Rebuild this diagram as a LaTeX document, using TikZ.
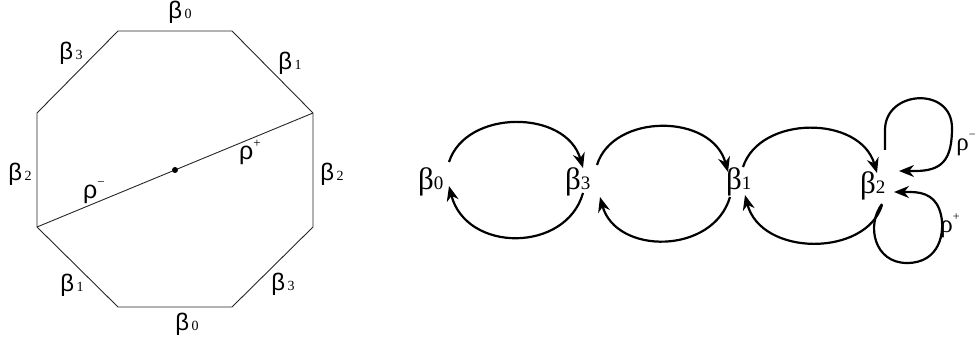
\documentclass[tikz,border=0pt]{standalone}
\usepackage{fontspec}
\setmainfont{Liberation Serif}
\newfontfamily\sansf{Liberation Sans}
\usetikzlibrary{arrows.meta}
\newcommand{\Lb}[1]{{\sansf\fontsize{24}{24}\selectfont β}\hspace{2.5pt}{\fontsize{14}{14}\selectfont #1}}
\newcommand{\Lr}[1]{{\sansf\fontsize{25}{25}\selectfont ρ}\raisebox{12pt}{\fontsize{13}{13}\selectfont #1}}
\newcommand{\Rb}[1]{{\fontsize{31}{31}\selectfont β}{\fontsize{19}{19}\selectfont #1}}
\newcommand{\Rr}[1]{{\fontsize{25}{25}\selectfont ρ}\raisebox{12pt}{\fontsize{12}{12}\selectfont #1}}
\tikzset{
  oct/.style={line width=0.9pt, draw=black!85, line join=miter},
  lbl/.style={inner sep=0pt, outer sep=0pt},
  arc/.style={line width=2.2pt, -{Stealth[length=15pt,width=12pt]}},
}
\begin{document}
\begin{tikzpicture}[x=1pt,y=-1pt]
\useasboundingbox (0,0) rectangle (980,347);
% octagon
\coordinate (A) at (118,31);
\coordinate (B) at (232,31);
\coordinate (C) at (313,113);
\coordinate (D) at (313,227);
\coordinate (E) at (232,307);
\coordinate (F) at (118,307);
\coordinate (G) at (37,227);
\coordinate (H) at (37,113);
\draw[oct] (A) -- (B) -- (C) -- (D) -- (E) -- (F) -- (G) -- (H) -- cycle;
\draw[oct] (G) -- (C);
\fill (175,170) circle (3pt);
\node[lbl] (t0) at (180,12) {\Lb{0}};
\node[lbl] (b0l) at (187,324) {\Lb{0}};
\node[lbl] (t3) at (71,53) {\Lb{3}};
\node[lbl] (t1) at (290,63) {\Lb{1}};
\node[lbl] (l2) at (20,174) {\Lb{2}};
\node[lbl] (r2) at (332,174) {\Lb{2}};
\node[lbl] (l1) at (72,285) {\Lb{1}};
\node[lbl] (r3) at (283,284) {\Lb{3}};
\node[lbl] (rm) at (94,193) {\Lr{−}};
\node[lbl] (rp) at (250,152) {\Lr{+}};
% right graph
\node[lbl, anchor=base west] (n0) at (418,190) {\Rb{0}};
\node[lbl, anchor=base west] (n3) at (565,190) {\Rb{3}};
\node[lbl, anchor=base west] (n1) at (726,190) {\Rb{1}};
\node[lbl, anchor=base west] (n2) at (860,194) {\Rb{2}};
\node[lbl] (pm) at (966,145) {\Rr{−}};
\node[lbl] (pp) at (950,226) {\Rr{+}};
% arc ends
\coordinate (a1s) at (449,162); \coordinate (a1e) at (583,168);
\coordinate (a2s) at (583,193); \coordinate (a2e) at (449,186);
\coordinate (a3s) at (597,165); \coordinate (a3e) at (728,172);
\coordinate (a4s) at (730,197); \coordinate (a4e) at (600,197);
\coordinate (a5s) at (743,167); \coordinate (a5e) at (877,173);
\coordinate (a6s) at (882,205); \coordinate (a6e) at (745,195);
\draw[arc] (a1s) .. controls (466,109) and (566,109) .. (a1e);
\draw[arc] (a2s) .. controls (566,253) and (466,253) .. (a2e);
\draw[arc] (a3s) .. controls (613,113) and (712,113) .. (a3e);
\draw[arc] (a4s) .. controls (713,255) and (616,255) .. (a4e);
\draw[arc] (a5s) .. controls (760,115) and (860,115) .. (a5e);
\draw[arc] (a6s) .. controls (866,257) and (761,257) .. (a6e);
% loops
\coordinate (u1) at (885,150); \coordinate (u2) at (899,171);
\coordinate (w1) at (882,204); \coordinate (w2) at (894,192);
\draw[arc] (u1) -- (885,130) .. controls (885,90) and (952,86) .. (952,128)
  .. controls (952,160) and (942,171) .. (915,171) -- (u2);
\draw[arc] (w1) .. controls (866,225) and (874,263) .. (907,263)
  .. controls (940,263) and (945,232) .. (941,215)
  .. controls (937,197) and (925,192) .. (910,192) -- (w2);
\end{tikzpicture}
\end{document}
